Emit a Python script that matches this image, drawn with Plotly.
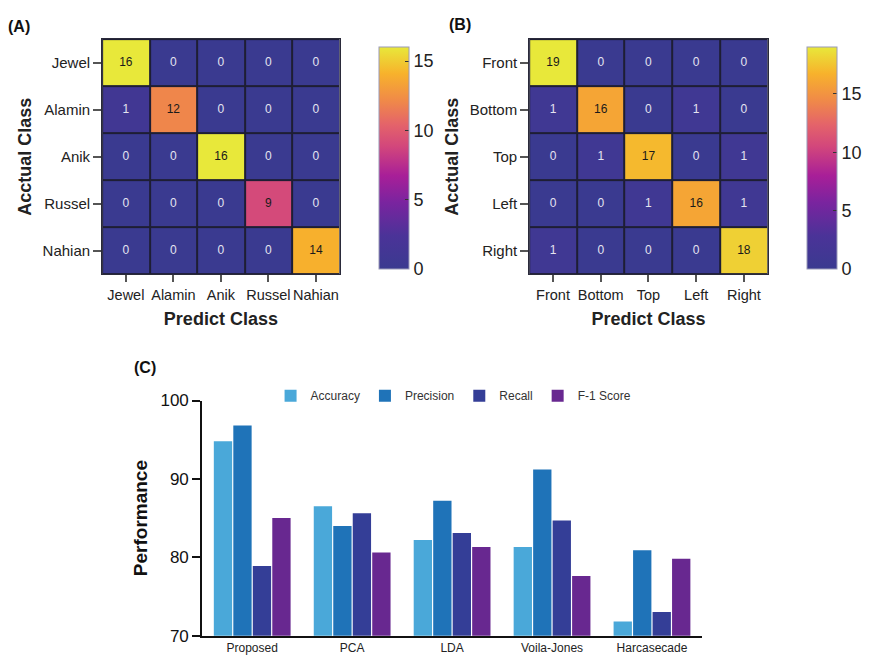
import plotly.graph_objects as go

# ---- Panel A: face identity confusion matrix ----
names_a = ["Jewel", "Alamin", "Anik", "Russel", "Nahian"]
conf_a = [
    [16, 0, 0, 0, 0],
    [1, 12, 0, 0, 0],
    [0, 0, 16, 0, 0],
    [0, 0, 0, 9, 0],
    [0, 0, 0, 0, 14],
]

# ---- Panel B: head pose confusion matrix ----
names_b = ["Front", "Bottom", "Top", "Left", "Right"]
conf_b = [
    [19, 0, 0, 0, 0],
    [1, 16, 0, 1, 0],
    [0, 1, 17, 0, 1],
    [0, 0, 1, 16, 1],
    [1, 0, 0, 0, 18],
]

# ---- Panel C: method comparison ----
methods = ["Proposed", "PCA", "LDA", "Voila-Jones", "Harcasecade"]
accuracy = [94.8, 86.5, 82.2, 81.3, 71.8]
precision = [96.8, 84.0, 87.2, 91.2, 80.9]
recall = [78.9, 85.6, 83.1, 84.7, 73.0]
f1_score = [85.0, 80.6, 81.3, 77.6, 79.8]

W, H = 877, 667


def px(x):
    return x / W


def py(y):
    return 1 - y / H


plasma_like = [
    [0.0, "#3a3a90"],
    [0.15, "#4b3398"],
    [0.30, "#7a249f"],
    [0.42, "#a81f98"],
    [0.55, "#d2467c"],
    [0.65, "#e4636a"],
    [0.76, "#f08a48"],
    [0.88, "#f7b22c"],
    [1.0, "#e8e83a"],
]

TXT = "#222222"
FONT = "Liberation Sans, Arial, sans-serif"
NARROW = "Liberation Sans Narrow, Arial Narrow, Liberation Sans, sans-serif"

fig = go.Figure()


def add_matrix(names, z, zmax, xa, ya, cb_x):
    fig.add_trace(go.Heatmap(
        z=z, x=names, y=names, xaxis=xa, yaxis=ya,
        colorscale=plasma_like, zmin=0, zmax=zmax,
        xgap=2, ygap=2, hoverinfo="skip",
        colorbar=dict(
            x=cb_x, xanchor="left", y=py(29), yanchor="top",
            lenmode="pixels", len=242, thicknessmode="pixels", thickness=30,
            outlinecolor="#9a9ab8", outlinewidth=1,
            tickvals=[0, 5, 10, 15], ticks="inside", ticklen=4,
            tickcolor="#333", tickfont=dict(size=18, color=TXT, family=FONT),
        ),
    ))
    xs, ys, labels, colors = [], [], [], []
    for i, row in enumerate(z):
        for j, v in enumerate(row):
            xs.append(names[j])
            ys.append(names[i])
            labels.append(str(v))
            colors.append("#e4e4f0" if v / zmax < 0.3 else "#1a1a1a")
    fig.add_trace(go.Scatter(
        x=xs, y=ys, xaxis=xa, yaxis=ya, mode="text", text=labels,
        textfont=dict(size=12, color=colors, family=FONT),
        hoverinfo="skip", showlegend=False,
    ))
    # dark backing that shows through the cell gaps as grid lines
    fig.add_shape(
        type="rect", xref=f"{xa} domain", yref=f"{ya} domain",
        x0=0, x1=1, y0=0, y1=1, layer="below",
        fillcolor="#1e1e34", line=dict(width=0),
    )


add_matrix(names_a, conf_a, 16, "x", "y", px(376))
add_matrix(names_b, conf_b, 19, "x2", "y2", px(812))

bar_series = [
    ("Accuracy", accuracy, "#4aa8d9"),
    ("Precision", precision, "#1f73b8"),
    ("Recall", recall, "#343e97"),
    ("F-1 Score", f1_score, "#682890"),
]
for name, vals, col in bar_series:
    fig.add_trace(go.Bar(
        x=methods, y=vals, name=name, marker_color=col,
        marker_line_width=0, xaxis="x3", yaxis="y3",
    ))

matrix_x = dict(
    type="category", ticks="outside", ticklen=7, tickwidth=1.5, tickcolor="#555",
    tickangle=0, tickfont=dict(size=14.5, color=TXT, family=FONT),
    showline=True, linecolor="#2a2a3a", linewidth=1, mirror=True,
    showgrid=False, zeroline=False,
    title=dict(text="<b>Predict Class</b>", font=dict(size=18, color=TXT, family=FONT), standoff=10),
)
matrix_y = dict(
    type="category", autorange="reversed", ticks="outside", ticklen=8, tickwidth=1.5,
    tickcolor="#555", tickfont=dict(size=15, color=TXT, family=FONT),
    showline=True, linecolor="#2a2a3a", linewidth=1, mirror=True,
    showgrid=False, zeroline=False,
    title=dict(text="<b>Acctual Class</b>", font=dict(size=18, color=TXT, family=FONT), standoff=6),
)

fig.update_layout(
    width=W, height=H,
    margin=dict(l=0, r=0, t=0, b=0),
    paper_bgcolor="white", plot_bgcolor="white",
    font=dict(family=FONT, color=TXT),
    barmode="group", bargap=0.22, bargroupgap=0.06,
    xaxis=dict(domain=[px(104), px(346)], anchor="y", **matrix_x),
    yaxis=dict(domain=[py(273), py(31)], anchor="x", **matrix_y),
    xaxis2=dict(domain=[px(539), px(782)], anchor="y2", **matrix_x),
    yaxis2=dict(domain=[py(273), py(31)], anchor="x2", **matrix_y),
    xaxis3=dict(
        domain=[px(206), px(715)], anchor="y3", type="category",
        showline=True, linecolor="#111", linewidth=2, ticks="",
        tickfont=dict(size=12, color=TXT, family=NARROW), showgrid=False,
    ),
    yaxis3=dict(
        domain=[py(645), py(403)], anchor="x3", range=[70, 100],
        tickvals=[70, 80, 90, 100], ticks="outside", ticklen=8, tickwidth=2,
        tickcolor="#111", showline=True, linecolor="#111", linewidth=2,
        showgrid=False, zeroline=False,
        tickfont=dict(size=17, color="#111", family=FONT),
        tickprefix="<b>", ticksuffix="</b>",
        title=dict(text="<b>Performance</b>", font=dict(size=19, color="#111", family=FONT), standoff=8),
    ),
    legend=dict(
        orientation="h", x=px(462), xanchor="center", y=py(398), yanchor="middle",
        font=dict(size=12, color="#333", family=NARROW),
        bgcolor="rgba(0,0,0,0)", itemwidth=30, tracegroupgap=0,
    ),
    annotations=[
        dict(text="<b>(A)</b>", x=px(6), y=py(18), xref="paper", yref="paper",
             xanchor="left", yanchor="middle", showarrow=False,
             font=dict(size=16, color="#111", family=FONT)),
        dict(text="<b>(B)</b>", x=px(455), y=py(16), xref="paper", yref="paper",
             xanchor="left", yanchor="middle", showarrow=False,
             font=dict(size=16, color="#111", family=FONT)),
        dict(text="<b>(C)</b>", x=px(134), y=py(369), xref="paper", yref="paper",
             xanchor="left", yanchor="middle", showarrow=False,
             font=dict(size=16, color="#111", family=FONT)),
    ],
)

fig.write_html("out.html")
